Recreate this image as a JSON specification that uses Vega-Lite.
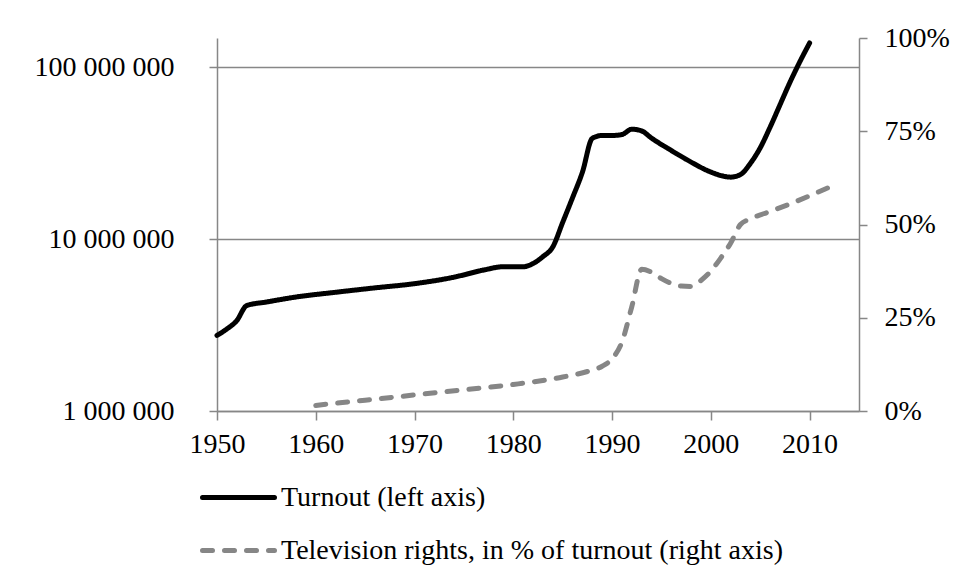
{
  "$schema": "https://vega.github.io/schema/vega-lite/v6.json",
  "autosize": "none",
  "width": 642,
  "height": 373,
  "padding": {"left": 217, "top": 38, "right": 100, "bottom": 168},
  "background": "white",
  "config": {
    "view": {"stroke": null},
    "font": "Liberation Serif",
    "locale": {"number": {"decimal": ".", "thousands": " ", "grouping": [3], "currency": ["", ""]}},
    "axis": {
      "labelFont": "Liberation Serif",
      "labelFontSize": 28,
      "labelColor": "black",
      "domainColor": "#878787",
      "domainWidth": 1.5,
      "tickColor": "#878787",
      "tickWidth": 1.5,
      "gridColor": "#878787",
      "gridWidth": 1.5,
      "title": null
    },
    "legend": {
      "labelFont": "Liberation Serif",
      "labelFontSize": 28,
      "labelColor": "black",
      "labelLimit": 0
    }
  },
  "layer": [
    {
      "data": {"values": [
        {"year": 1950, "value": 2750000, "series": "Turnout (left axis)"},
        {"year": 1951, "value": 3000000, "series": "Turnout (left axis)"},
        {"year": 1952, "value": 3350000, "series": "Turnout (left axis)"},
        {"year": 1953, "value": 4100000, "series": "Turnout (left axis)"},
        {"year": 1955, "value": 4300000, "series": "Turnout (left axis)"},
        {"year": 1958, "value": 4600000, "series": "Turnout (left axis)"},
        {"year": 1962, "value": 4900000, "series": "Turnout (left axis)"},
        {"year": 1966, "value": 5200000, "series": "Turnout (left axis)"},
        {"year": 1970, "value": 5500000, "series": "Turnout (left axis)"},
        {"year": 1974, "value": 6000000, "series": "Turnout (left axis)"},
        {"year": 1977, "value": 6600000, "series": "Turnout (left axis)"},
        {"year": 1979, "value": 6900000, "series": "Turnout (left axis)"},
        {"year": 1981, "value": 6900000, "series": "Turnout (left axis)"},
        {"year": 1982, "value": 7200000, "series": "Turnout (left axis)"},
        {"year": 1983, "value": 7900000, "series": "Turnout (left axis)"},
        {"year": 1984, "value": 9000000, "series": "Turnout (left axis)"},
        {"year": 1985, "value": 12500000, "series": "Turnout (left axis)"},
        {"year": 1986, "value": 17400000, "series": "Turnout (left axis)"},
        {"year": 1987, "value": 24500000, "series": "Turnout (left axis)"},
        {"year": 1988, "value": 38500000, "series": "Turnout (left axis)"},
        {"year": 1989, "value": 40000000, "series": "Turnout (left axis)"},
        {"year": 1990, "value": 40000000, "series": "Turnout (left axis)"},
        {"year": 1991, "value": 40500000, "series": "Turnout (left axis)"},
        {"year": 1992, "value": 43500000, "series": "Turnout (left axis)"},
        {"year": 1993, "value": 42500000, "series": "Turnout (left axis)"},
        {"year": 1994, "value": 38600000, "series": "Turnout (left axis)"},
        {"year": 1996, "value": 32700000, "series": "Turnout (left axis)"},
        {"year": 1998, "value": 28000000, "series": "Turnout (left axis)"},
        {"year": 2000, "value": 24500000, "series": "Turnout (left axis)"},
        {"year": 2002, "value": 22900000, "series": "Turnout (left axis)"},
        {"year": 2003, "value": 23700000, "series": "Turnout (left axis)"},
        {"year": 2004, "value": 27500000, "series": "Turnout (left axis)"},
        {"year": 2005, "value": 33900000, "series": "Turnout (left axis)"},
        {"year": 2006, "value": 44700000, "series": "Turnout (left axis)"},
        {"year": 2007, "value": 60300000, "series": "Turnout (left axis)"},
        {"year": 2008, "value": 81300000, "series": "Turnout (left axis)"},
        {"year": 2009, "value": 107000000, "series": "Turnout (left axis)"},
        {"year": 2010, "value": 138000000, "series": "Turnout (left axis)"}
      ]},
      "mark": {"type": "line", "interpolate": "monotone", "strokeWidth": 5, "strokeCap": "round", "strokeJoin": "round"},
      "encoding": {
        "x": {"field": "year", "type": "quantitative",
          "scale": {"domain": [1950, 2015], "nice": false, "zero": false},
          "axis": {"values": [1950, 1960, 1970, 1980, 1990, 2000, 2010], "format": "d", "grid": false, "tickSize": 9, "labelPadding": 10, "labelFlush": false}},
        "y": {"field": "value", "type": "quantitative",
          "scale": {"type": "log", "domain": [1000000, 147500000], "nice": false},
          "axis": {"orient": "left", "values": [1000000, 10000000, 100000000], "format": ",d", "grid": true, "tickSize": 8, "labelPadding": 35}},
        "color": {"field": "series", "type": "nominal",
          "scale": {"domain": ["Turnout (left axis)", "Television rights, in % of turnout (right axis)"], "range": ["black", "#868686"]},
          "legend": {"orient": "none", "legendX": -17, "legendY": 421, "title": null, "symbolType": "stroke", "symbolSize": 5184, "symbolStrokeWidth": 5, "labelOffset": 4, "rowPadding": 0, "direction": "vertical",
            "encode": {"symbols": {"update": {"strokeCap": {"value": "round"}}}}}},
        "strokeDash": {"field": "series", "type": "nominal",
          "scale": {"domain": ["Turnout (left axis)", "Television rights, in % of turnout (right axis)"], "range": [[1, 0], [10, 12]]},
          "legend": {"orient": "none", "legendX": -17, "legendY": 421, "title": null, "symbolType": "stroke", "symbolSize": 5184, "symbolStrokeWidth": 5, "labelOffset": 4, "rowPadding": 0, "direction": "vertical",
            "encode": {"symbols": {"update": {"strokeCap": {"value": "round"}}}}}}
      }
    },
    {
      "data": {"values": [
        {"year": 1960, "value": 0.015, "series": "Television rights, in % of turnout (right axis)"},
        {"year": 1965, "value": 0.029, "series": "Television rights, in % of turnout (right axis)"},
        {"year": 1970, "value": 0.043, "series": "Television rights, in % of turnout (right axis)"},
        {"year": 1975, "value": 0.057, "series": "Television rights, in % of turnout (right axis)"},
        {"year": 1980, "value": 0.071, "series": "Television rights, in % of turnout (right axis)"},
        {"year": 1985, "value": 0.091, "series": "Television rights, in % of turnout (right axis)"},
        {"year": 1988, "value": 0.11, "series": "Television rights, in % of turnout (right axis)"},
        {"year": 1989, "value": 0.12, "series": "Television rights, in % of turnout (right axis)"},
        {"year": 1990, "value": 0.14, "series": "Television rights, in % of turnout (right axis)"},
        {"year": 1991, "value": 0.185, "series": "Television rights, in % of turnout (right axis)"},
        {"year": 1992, "value": 0.28, "series": "Television rights, in % of turnout (right axis)"},
        {"year": 1993, "value": 0.38, "series": "Television rights, in % of turnout (right axis)"},
        {"year": 1994, "value": 0.372, "series": "Television rights, in % of turnout (right axis)"},
        {"year": 1995, "value": 0.355, "series": "Television rights, in % of turnout (right axis)"},
        {"year": 1997, "value": 0.335, "series": "Television rights, in % of turnout (right axis)"},
        {"year": 1998, "value": 0.334, "series": "Television rights, in % of turnout (right axis)"},
        {"year": 1999, "value": 0.35, "series": "Television rights, in % of turnout (right axis)"},
        {"year": 2000, "value": 0.375, "series": "Television rights, in % of turnout (right axis)"},
        {"year": 2001, "value": 0.41, "series": "Television rights, in % of turnout (right axis)"},
        {"year": 2002, "value": 0.45, "series": "Television rights, in % of turnout (right axis)"},
        {"year": 2003, "value": 0.5, "series": "Television rights, in % of turnout (right axis)"},
        {"year": 2004, "value": 0.515, "series": "Television rights, in % of turnout (right axis)"},
        {"year": 2006, "value": 0.535, "series": "Television rights, in % of turnout (right axis)"},
        {"year": 2008, "value": 0.555, "series": "Television rights, in % of turnout (right axis)"},
        {"year": 2010, "value": 0.577, "series": "Television rights, in % of turnout (right axis)"},
        {"year": 2012, "value": 0.6, "series": "Television rights, in % of turnout (right axis)"}
      ]},
      "mark": {"type": "line", "interpolate": "monotone", "strokeWidth": 5, "strokeCap": "round", "strokeJoin": "round"},
      "encoding": {
        "x": {"field": "year", "type": "quantitative"},
        "y": {"field": "value", "type": "quantitative",
          "scale": {"domain": [0, 1], "nice": false},
          "axis": {"orient": "right", "values": [0, 0.25, 0.5, 0.75, 1], "format": ".0%", "grid": false, "tickSize": 8, "labelPadding": 17}},
        "color": {"field": "series", "type": "nominal"},
        "strokeDash": {"field": "series", "type": "nominal"}
      }
    }
  ],
  "resolve": {"scale": {"y": "independent"}, "axis": {"y": "independent"}}
}
